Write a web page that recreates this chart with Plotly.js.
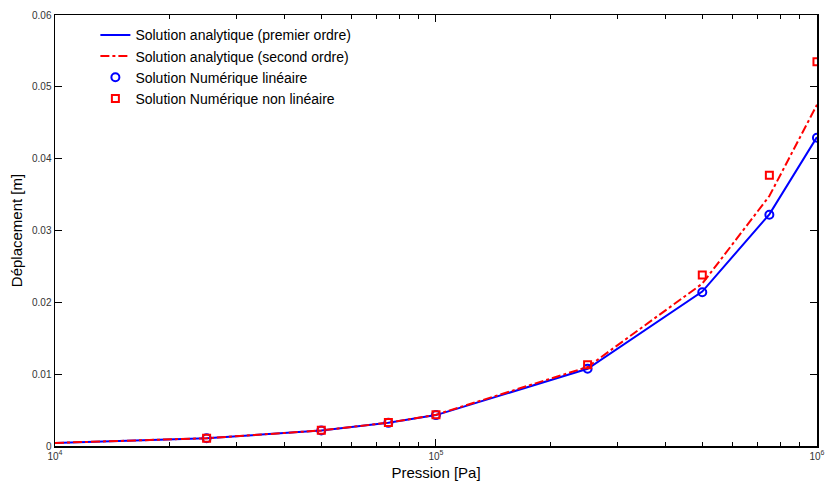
<!DOCTYPE html>
<html><head><meta charset="utf-8">
<script src="https://cdn.plot.ly/plotly-3.0.1.min.js"></script>
<style>html,body{margin:0;padding:0;background:#fff}</style>
</head><body>
<div id="chart" style="width:826px;height:487px"></div>
<script>
// Pressure values [Pa]
var pressureLine = [1e4, 2.5e4, 5e4, 7.5e4, 1e5, 2.5e5, 5e5, 7.5e5, 1e6];
var pressureNum = [2.5e4, 5e4, 7.5e4, 1e5, 2.5e5, 5e5, 7.5e5, 1e6];
// Displacement [m]
var analytic1 = [0.00043, 0.00108, 0.00215, 0.00323, 0.0043, 0.01075, 0.0215, 0.03225, 0.043];
var analytic2 = [0.00043, 0.00108, 0.00216, 0.00325, 0.00435, 0.0110, 0.0226, 0.0348, 0.0475];
var numLin = [0.00108, 0.00215, 0.00322, 0.0043, 0.01075, 0.0214, 0.0322, 0.0429];
var numNonLin = [0.00109, 0.00218, 0.00328, 0.00435, 0.0113, 0.0238, 0.0377, 0.0535];
var names = ['Solution analytique (premier ordre)', 'Solution analytique (second ordre)',
             'Solution Numérique linéaire', 'Solution Numérique non linéaire'];
var yTicks = [0, 0.01, 0.02, 0.03, 0.04, 0.05, 0.06];
var yTickText = ['0', '0.01', '0.02', '0.03', '0.04', '0.05', '0.06'];
var xTicks = [1e4, 1e5, 1e6];
var xTickText = ['10<sup>4</sup>', '10<sup>5</sup>', '10<sup>6</sup>'];

var traces = [
  {x: pressureLine, y: analytic1, name: names[0], mode: 'lines', line: {color: '#0000ff', width: 2}},
  {x: pressureLine, y: analytic2, name: names[1], mode: 'lines', line: {color: '#ff0000', width: 2, dash: 'dashdot'}},
  {x: pressureNum, y: numLin, name: names[2], mode: 'markers',
   marker: {symbol: 'circle-open', color: '#0000ff', size: 8, line: {width: 2, color: '#0000ff'}}},
  {x: pressureNum, y: numNonLin, name: names[3], mode: 'markers',
   marker: {symbol: 'square-open', color: '#ff0000', size: 7, line: {width: 2, color: '#ff0000'}}}
];

var layout = {
  width: 826, height: 487,
  margin: {l: 55, r: 9, t: 15, b: 41},
  paper_bgcolor: '#ffffff', plot_bgcolor: '#ffffff',
  font: {family: 'Liberation Sans, Arial, sans-serif', color: '#000'},
  showlegend: true,
  legend: {x: 0.053, y: 0.99, xanchor: 'left', yanchor: 'top', bgcolor: 'rgba(0,0,0,0)',
           font: {size: 14, color: '#000'}, tracegroupgap: 0, itemwidth: 30},
  xaxis: {
    type: 'log', range: [4, 6.0001], tickmode: 'array', tickvals: xTicks, ticktext: xTickText,
    showgrid: false, zeroline: false, showline: true, linecolor: '#000', linewidth: 1.5, mirror: 'ticks',
    ticks: 'inside', ticklen: 7, tickcolor: '#000', tickwidth: 1,
    minor: {ticks: 'inside', ticklen: 4, tickcolor: '#000', dtick: 'D1', showgrid: false},
    tickfont: {size: 10, color: '#333'},
    title: {text: 'Pression [Pa]', font: {size: 15, color: '#000'}, standoff: 7}
  },
  yaxis: {
    range: [0, 0.06], tickvals: yTicks, ticktext: yTickText,
    showgrid: false, zeroline: false, showline: true, linecolor: '#000', linewidth: 1.5, mirror: 'ticks',
    ticks: 'inside', ticklen: 7, tickcolor: '#000', tickwidth: 1,
    tickfont: {size: 10, color: '#333'},
    title: {text: 'Déplacement [m]', font: {size: 15, color: '#000'}, standoff: 6}
  }
};

Plotly.newPlot('chart', traces, layout, {displayModeBar: false, staticPlot: true});
</script>
</body></html>
